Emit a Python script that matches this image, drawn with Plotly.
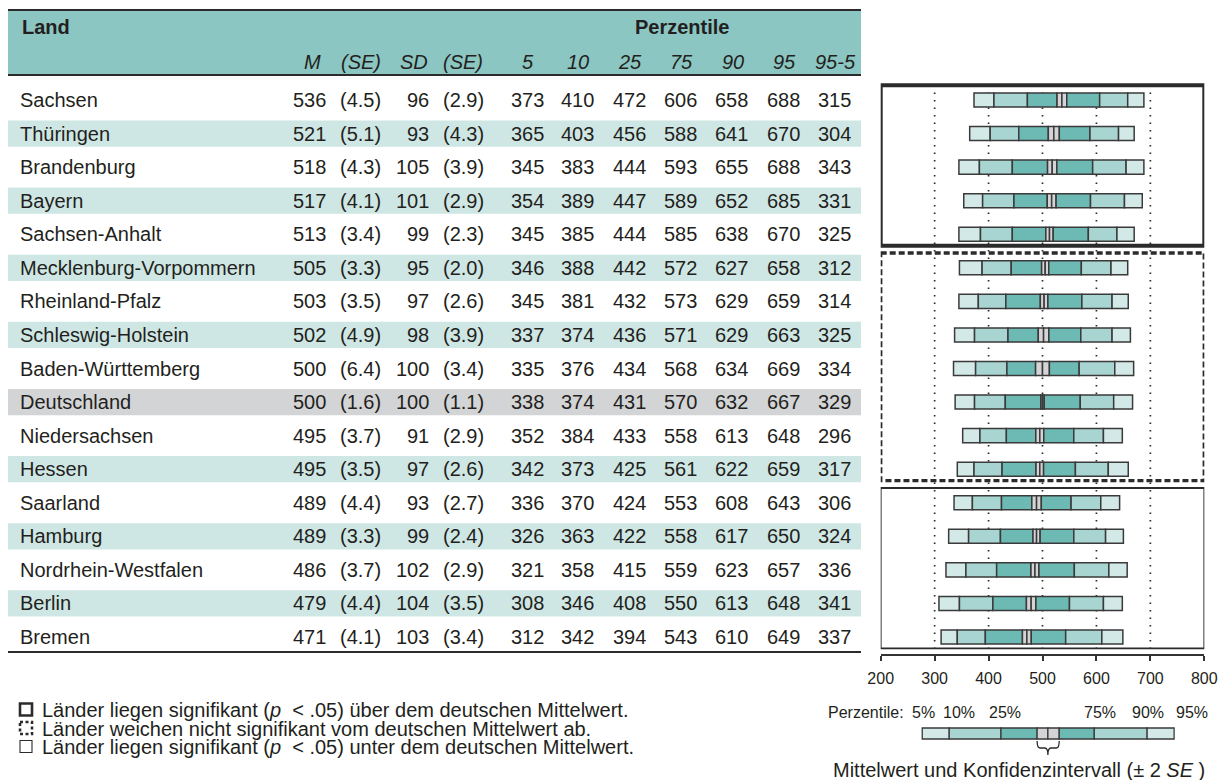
import plotly.graph_objects as go

# ---------------- data ----------------
laender = ["Sachsen", "Thüringen", "Brandenburg", "Bayern", "Sachsen-Anhalt",
           "Mecklenburg-Vorpommern", "Rheinland-Pfalz", "Schleswig-Holstein",
           "Baden-Württemberg", "Deutschland", "Niedersachsen", "Hessen",
           "Saarland", "Hamburg", "Nordrhein-Westfalen", "Berlin", "Bremen"]
M = [536, 521, 518, 517, 513, 505, 503, 502, 500, 500, 495, 495, 489, 489, 486, 479, 471]
SE_M = [4.5, 5.1, 4.3, 4.1, 3.4, 3.3, 3.5, 4.9, 6.4, 1.6, 3.7, 3.5, 4.4, 3.3, 3.7, 4.4, 4.1]
SD = [96, 93, 105, 101, 99, 95, 97, 98, 100, 100, 91, 97, 93, 99, 102, 104, 103]
SE_SD = [2.9, 4.3, 3.9, 2.9, 2.3, 2.0, 2.6, 3.9, 3.4, 1.1, 2.9, 2.6, 2.7, 2.4, 2.9, 3.5, 3.4]
P5 = [373, 365, 345, 354, 345, 346, 345, 337, 335, 338, 352, 342, 336, 326, 321, 308, 312]
P10 = [410, 403, 383, 389, 385, 388, 381, 374, 376, 374, 384, 373, 370, 363, 358, 346, 342]
P25 = [472, 456, 444, 447, 444, 442, 432, 436, 434, 431, 433, 425, 424, 422, 415, 408, 394]
P75 = [606, 588, 593, 589, 585, 572, 573, 571, 568, 570, 558, 561, 553, 558, 559, 550, 543]
P90 = [658, 641, 655, 652, 638, 627, 629, 629, 634, 632, 613, 622, 608, 617, 623, 613, 610]
P95 = [688, 670, 688, 685, 670, 658, 659, 663, 669, 667, 648, 659, 643, 650, 657, 648, 649]
P95_5 = [315, 304, 343, 331, 325, 312, 314, 325, 334, 329, 296, 317, 306, 324, 336, 341, 337]
gruppe = ["ueber"] * 5 + ["ns"] * 7 + ["unter"] * 5
header_cols = ["<i>M</i>", "<i>(SE)</i>", "<i>SD</i>", "<i>(SE)</i>", "<i>5</i>", "<i>10</i>",
               "<i>25</i>", "<i>75</i>", "<i>90</i>", "<i>95</i>", "<i>95-5</i>"]
x_ticks = [200, 300, 400, 500, 600, 700, 800]
dotted_at = [300, 400, 500, 600, 700]
legend_example = [277, 327, 423, 490, 510, 531, 596, 694, 744]  # schematic legend bar
legend_pct = ["5%", "10%", "25%", "75%", "90%", "95%"]
legend_texts = [
    "Länder liegen signifikant (<i>p</i>  < .05) über dem deutschen Mittelwert.",
    "Länder weichen nicht signifikant vom deutschen Mittelwert ab.",
    "Länder liegen signifikant (<i>p</i>  < .05) unter dem deutschen Mittelwert.",
]

# ---------------- style / layout constants ----------------
W, H = 1218, 780
ROW0, ROWH = 100.0, 33.5625
X200, X800 = 880.7, 1204.3
FONT = "Liberation Sans, Arial, sans-serif"
TXT = "#231f20"
EDGE = "#3a3a3a"
C_HEAD = "#8bc6c2"
C_BAND = "#cfe7e4"
C_DE = "#d3d4d6"
C_LIGHT = "#d3e9e7"
C_MID = "#a8d5d1"
C_DARK = "#6dbab4"
C_CI = "#d4d4d6"

def prow(p):
    return (p - ROW0) / ROWH

n = len(laender)
rows = list(range(n))
ci_lo = [m - 2 * s for m, s in zip(M, SE_M)]
ci_hi = [m + 2 * s for m, s in zip(M, SE_M)]

fig = go.Figure()

segments = [(P5, P10, C_LIGHT), (P10, P25, C_MID), (P25, ci_lo, C_DARK),
            (ci_lo, M, C_CI), (M, ci_hi, C_CI), (ci_hi, P75, C_DARK),
            (P75, P90, C_MID), (P90, P95, C_LIGHT)]
for lo, hi, col in segments:
    fig.add_trace(go.Bar(orientation="h", y=rows, base=lo,
                         x=[h - l for l, h in zip(lo, hi)], width=0.42,
                         marker=dict(color=col, line=dict(color=EDGE, width=1.5)),
                         xaxis="x2", yaxis="y", showlegend=False, hoverinfo="skip"))

# legend example bar
leg_cols = [C_LIGHT, C_MID, C_DARK, C_CI, C_CI, C_DARK, C_MID, C_LIGHT]
for i, col in enumerate(leg_cols):
    lo, hi = legend_example[i], legend_example[i + 1]
    fig.add_trace(go.Bar(orientation="h", y=[733.5], base=[lo], x=[hi - lo], width=11,
                         marker=dict(color=col, line=dict(color=EDGE, width=1.3)),
                         xaxis="x2", yaxis="y2", showlegend=False, hoverinfo="skip"))

shapes = []
ann = []

# header band and lines
shapes.append(dict(type="rect", xref="x", yref="y2", x0=8, x1=861, y0=10, y1=75,
                   fillcolor=C_HEAD, line=dict(width=0), layer="below"))
for yy, lw in [(10, 2), (75, 2), (652, 1.8)]:
    shapes.append(dict(type="line", xref="x", yref="y2", x0=8, x1=861, y0=yy, y1=yy,
                       line=dict(color="#2b2b2b", width=lw)))
# row bands
for i in rows:
    if laender[i] == "Deutschland":
        col = C_DE
    elif i % 2 == 1:
        col = C_BAND
    else:
        continue
    shapes.append(dict(type="rect", xref="x", yref="y", x0=8, x1=861,
                       y0=i - 0.39, y1=i + 0.39, fillcolor=col, line=dict(width=0), layer="below"))

# dotted reference lines
for v in dotted_at:
    shapes.append(dict(type="line", xref="x2", yref="y", x0=v, x1=v, y0=-0.45, y1=prow(655),
                       line=dict(color="#2b2b2b", width=1.7, dash="1.7px,5.8px"), layer="below"))

# group frames
frame_style = {"ueber": dict(width=4, dash="solid"),
               "ns": dict(width=3.4, dash="6px,3px"),
               "unter": dict(width=1.8, dash="solid")}
for g in ["ueber", "ns", "unter"]:
    idx = [i for i in rows if gruppe[i] == g]
    shapes.append(dict(type="rect", xref="x2", yref="y", x0=200, x1=800,
                       y0=min(idx) - 0.44, y1=max(idx) + 0.34,
                       line=dict(color="#2b2b2b", **frame_style[g]), fillcolor="rgba(0,0,0,0)"))

# header texts
ann.append(dict(x=20, y=27, xref="x", yref="y2", text="<b>Land</b>", showarrow=False,
                xanchor="left", yanchor="middle", font=dict(size=20, color=TXT)))
ann.append(dict(x=682, y=27, xref="x", yref="y2", text="<b>Perzentile</b>", showarrow=False,
                xanchor="center", yanchor="middle", font=dict(size=20, color=TXT)))
head_centers = [312, 361, 414, 463, 528, 578, 630, 681, 733, 784, 835]
for t, cx in zip(header_cols, head_centers):
    ann.append(dict(x=cx, y=62, xref="x", yref="y2", text=t, showarrow=False,
                    xanchor="center", yanchor="middle", font=dict(size=20, color=TXT)))

# body texts
col_right = [327, 382, 430, 485, 545, 595, 647, 698, 749, 801, 852]
columns = [
    [str(v) for v in M], ["(%.1f)" % v for v in SE_M],
    [str(v) for v in SD], ["(%.1f)" % v for v in SE_SD],
    [str(v) for v in P5], [str(v) for v in P10], [str(v) for v in P25],
    [str(v) for v in P75], [str(v) for v in P90], [str(v) for v in P95],
    [str(v) for v in P95_5],
]
for i in rows:
    ann.append(dict(x=19, y=i, xref="x", yref="y", text=laender[i], showarrow=False,
                    xanchor="left", yanchor="middle", borderpad=0,
                    font=dict(size=20, color=TXT)))
    for c, rx in zip(columns, col_right):
        ann.append(dict(x=rx, y=i, xref="x", yref="y", text=c[i], showarrow=False,
                        xanchor="right", yanchor="middle", borderpad=0,
                        font=dict(size=20, color=TXT)))

# bottom-left legend
leg_y = [710, 728.5, 747]
leg_lines = [dict(width=2.6, dash="solid"), dict(width=2.6, dash="3px,2.5px"),
              dict(width=1.1, dash="solid")]
for yy, t, ls in zip(leg_y, legend_texts, leg_lines):
    shapes.append(dict(type="rect", xref="x", yref="y2", x0=20, x1=32, y0=yy - 6.5, y1=yy + 5.5,
                       line=dict(color="#2b2b2b", **ls)))
    ann.append(dict(x=41, y=yy, xref="x", yref="y2", text=t, showarrow=False,
                    xanchor="left", yanchor="middle", borderpad=0,
                    font=dict(size=20, color=TXT)))

# bottom-right legend labels
ann.append(dict(x=906, y=712, xref="x", yref="y2", text="Perzentile:", showarrow=False,
                xanchor="right", yanchor="middle", font=dict(size=16, color=TXT)))
pct_x = [923, 959, 1005, 1100, 1148, 1192]
for t, xx in zip(legend_pct, pct_x):
    ann.append(dict(x=xx, y=712, xref="x", yref="y2", text=t, showarrow=False,
                    xanchor="center", yanchor="middle", font=dict(size=16, color=TXT)))
ann.append(dict(x=1019, y=770, xref="x", yref="y2",
                text="Mittelwert und Konfidenzintervall (± 2 <i>SE</i> )", showarrow=False,
                xanchor="center", yanchor="middle", font=dict(size=20, color=TXT)))

# brace under the CI of the legend bar
b0, bm, b1 = legend_example[3], legend_example[4], legend_example[5]
u = 600 / (X800 - X200)  # data units per pixel on score axis
brace = (f"M {b0},741 Q {b0},748 {b0 + 3*u},748 L {bm - 3*u},748 Q {bm},748 {bm},755 "
         f"Q {bm},748 {bm + 3*u},748 L {b1 - 3*u},748 Q {b1},748 {b1},741")
shapes.append(dict(type="path", xref="x2", yref="y2", path=brace,
                   line=dict(color="#2b2b2b", width=1.3)))

fig.update_layout(
    width=W, height=H, autosize=False,
    margin=dict(l=0, r=0, t=0, b=0, pad=0, autoexpand=False),
    paper_bgcolor="white", plot_bgcolor="rgba(0,0,0,0)",
    font=dict(family=FONT, color=TXT),
    barmode="overlay", showlegend=False,
    shapes=shapes, annotations=ann,
    xaxis=dict(domain=[0, 1], range=[0, W], visible=False, fixedrange=True, automargin=False),
    yaxis=dict(domain=[0, 1], range=[prow(H), prow(0)], visible=False, fixedrange=True,
               automargin=False),
    yaxis2=dict(domain=[0, 1], range=[H, 0], visible=False, overlaying="y", fixedrange=True,
                automargin=False),
    xaxis2=dict(domain=[X200 / W, X800 / W], range=[200, 800], anchor="free",
                position=1 - 655 / H, showline=True, linecolor="#333333", linewidth=1.5,
                ticks="outside", ticklen=5, tickwidth=1.5, tickcolor="#333333",
                tickvals=x_ticks, ticktext=[str(v) for v in x_ticks],
                tickfont=dict(size=16, color=TXT), ticklabelstandoff=4, automargin=False,
                showgrid=False, zeroline=False, fixedrange=True),
)

fig.write_html("out.html", config={"displayModeBar": False},
               post_script="document.body.style.margin='0px';"
                           "document.body.style.overflow='hidden';")
